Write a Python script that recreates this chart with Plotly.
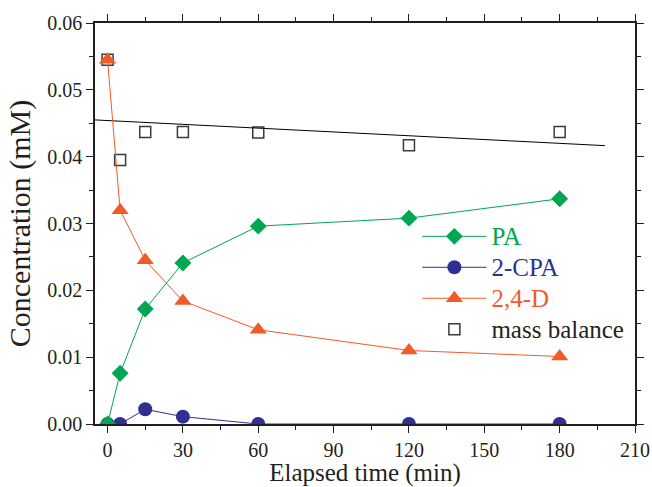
import plotly.graph_objects as go

time_min = [0, 5, 15, 30, 60, 120, 180]
pa = [0.0, 0.0076, 0.0172, 0.0241, 0.0296, 0.0308, 0.0337]
cpa = [0.0, 0.0, 0.0022, 0.0011, 0.0, 0.0, 0.0]
d24 = [0.0545, 0.0320, 0.0245, 0.0184, 0.0141, 0.0110, 0.0101]
mass_balance = [0.0545, 0.0395, 0.0437, 0.0437, 0.0436, 0.0417, 0.0437]
fit_x = [-5, 198]
fit_y = [0.0455, 0.04165]

GREEN = "#00A651"
BLUE = "#2E3192"
ORANGE = "#F15A29"
INK = "#231F20"
FONT = "Liberation Serif, Times New Roman, Times, serif"


def label(text, color):
    return (f"<span style='color:{color};font-family:Liberation Serif;"
            f"font-size:25px'>{text}</span>")


fig = go.Figure()
fig.add_trace(go.Scatter(x=time_min, y=mass_balance, mode="markers",
                         name=label("mass balance", INK), legendrank=4,
                         marker=dict(symbol="square-open", size=11, color="#3a3a3a",
                                     line=dict(width=1.5, color="#3a3a3a"))))
fig.add_trace(go.Scatter(x=fit_x, y=fit_y, mode="lines", showlegend=False,
                         line=dict(color="black", width=1)))
fig.add_trace(go.Scatter(x=time_min, y=cpa, mode="lines+markers",
                         name=label("2-CPA", BLUE), legendrank=2,
                         line=dict(color=BLUE, width=1),
                         marker=dict(symbol="circle", size=14, color=BLUE)))
fig.add_trace(go.Scatter(x=time_min, y=pa, mode="lines+markers",
                         name=label("PA", GREEN), legendrank=1,
                         line=dict(color=GREEN, width=1),
                         marker=dict(symbol="diamond", size=13, color=GREEN)))
fig.add_trace(go.Scatter(x=time_min, y=d24, mode="lines+markers",
                         name=label("2,4-D", ORANGE), legendrank=3,
                         line=dict(color=ORANGE, width=1),
                         marker=dict(symbol="triangle-up", size=15, color=ORANGE)))

axis_common = dict(
    showline=True, linecolor=INK, linewidth=1.5, mirror="ticks",
    ticks="outside", ticklen=7, tickwidth=1.2, tickcolor=INK,
    showgrid=False, zeroline=False, automargin=False,
    tickfont=dict(family=FONT, size=20, color=INK),
)

fig.update_layout(
    width=652, height=487,
    margin=dict(l=95, r=17, t=23, b=63),
    paper_bgcolor="white", plot_bgcolor="white",
    font=dict(family=FONT, color=INK),
    xaxis=dict(range=[-5, 210], tickvals=[0, 30, 60, 90, 120, 150, 180, 210],
               minor=dict(ticks="outside", ticklen=4, tickwidth=1.2, tickcolor=INK,
                          tickvals=[15, 45, 75, 105, 135, 165, 195]),
               title=dict(text="Elapsed time (min)", font=dict(family=FONT, size=25, color=INK),
                          standoff=4),
               **axis_common),
    yaxis=dict(range=[0, 0.06], tickvals=[0, 0.01, 0.02, 0.03, 0.04, 0.05, 0.06],
               tickformat=".2f",
               minor=dict(ticks="outside", ticklen=4, tickwidth=1.2, tickcolor=INK,
                          tickvals=[0.005, 0.015, 0.025, 0.035, 0.045, 0.055]),
               title=dict(text="Concentration (mM)", font=dict(family=FONT, size=30, color=INK),
                          standoff=8),
               **axis_common),
    legend=dict(x=0.597, y=0.519, xanchor="left", yanchor="top",
                bgcolor="rgba(0,0,0,0)", borderwidth=0,
                itemwidth=64, font=dict(family=FONT, size=21.5, color=INK),
                tracegroupgap=0),
    showlegend=True,
)

# remove the browser's default 8px page margin so the figure fills the window
fig.write_html("out.html", config={"displayModeBar": False},
               post_script="document.body.style.margin='0';document.body.style.overflow='hidden';")
